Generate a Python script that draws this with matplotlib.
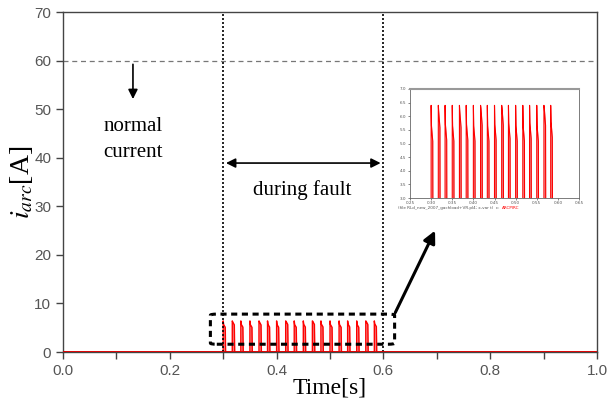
import numpy as np
import matplotlib.pyplot as plt
from matplotlib.patches import FancyBboxPatch
from matplotlib.ticker import MultipleLocator

plt.rcParams['mathtext.fontset'] = 'stix'

# arc pulse start times [s], peak and plateau currents [A]
pulse_t = [0.300, 0.317, 0.333, 0.350, 0.367, 0.383, 0.400, 0.417, 0.433,
           0.450, 0.467, 0.483, 0.500, 0.517, 0.533, 0.550, 0.567, 0.583]
pulse_peak = [6.4, 6.4, 6.4, 6.4, 6.4, 6.4, 6.4, 6.4, 6.4,
              6.4, 6.4, 6.4, 6.4, 6.4, 6.4, 6.4, 6.4, 6.4]
pulse_plat = [5.65, 6.2, 5.7, 5.65, 6.2, 5.7, 5.65, 6.3, 5.65,
              5.7, 6.3, 5.75, 5.65, 5.65, 5.75, 5.65, 6.3, 5.8]
pulse_width = 0.0045
normal_level = 60
fault_start, fault_end = 0.3, 0.6

xs, ys = [0.0], [0.0]
for t0, pk, pl in zip(pulse_t, pulse_peak, pulse_plat):
    xs += [t0, t0, t0 + 0.0008, t0 + pulse_width * 0.85, t0 + pulse_width]
    ys += [0, pk, pl, pl * 0.9, 0]
xs.append(1.0)
ys.append(0.0)
xs, ys = np.array(xs), np.array(ys)

fig = plt.figure(figsize=(6.16, 4.0), dpi=100)
ax = fig.add_axes([63 / 616, 48 / 400, 534 / 616, 340 / 400])

ax.fill_between(xs, ys, color='#ee8888', lw=0)
ax.plot(xs, ys, color='red', lw=1.0)
ax.axhline(0, color='#dd0000', lw=2.0, zorder=3)

ax.set_xlim(0, 1)
ax.set_ylim(0, 70)
ax.xaxis.set_major_locator(MultipleLocator(0.2))
ax.xaxis.set_minor_locator(MultipleLocator(0.1))
ax.yaxis.set_major_locator(MultipleLocator(10))
ax.tick_params(direction='out', length=5, width=1, labelsize=11,
               colors='#444444', labelcolor='#555555')
ax.tick_params(which='minor', direction='out', length=5, width=1, colors='#444444')
ax.xaxis.set_major_formatter(plt.FuncFormatter(lambda v, p: f'{v:.1f}'))
for lab in ax.get_xticklabels() + ax.get_yticklabels():
    lab.set_family('Liberation Sans')
for s in ax.spines.values():
    s.set_color('#444444')
    s.set_linewidth(1.0)

ax.set_xlabel('Time[s]', family='Liberation Serif', fontsize=17, labelpad=0)
ax.set_ylabel(r'$i_{arc}$[A]', family='Liberation Serif', fontsize=20)
ax.yaxis.set_label_coords(-28 / 534, 0.5)

# reference lines
ax.axhline(normal_level, color='#777777', lw=0.9, ls=(0, (4, 3)))
for xv in (fault_start, fault_end):
    ax.plot([xv, xv], [0, 70], color='black', lw=1.2, ls=(0, (1.2, 1.2)))

# normal current annotation
ax.annotate('', xy=(0.131, 51.5), xytext=(0.131, 59.8),
            arrowprops=dict(arrowstyle='-|>', color='black', lw=1.2, mutation_scale=14))
ax.text(0.131, 46.5, 'normal', ha='center', va='center',
        family='Liberation Serif', fontsize=15)
ax.text(0.131, 41.0, 'current', ha='center', va='center',
        family='Liberation Serif', fontsize=15)

# during fault annotation
ax.annotate('', xy=(fault_start, 38.9), xytext=(fault_end, 38.9),
            arrowprops=dict(arrowstyle='<|-|>', color='black', lw=1.2, mutation_scale=14))
ax.text(0.447, 33.4, 'during fault', ha='center', va='center',
        family='Liberation Serif', fontsize=15)

# dashed zoom box
box = FancyBboxPatch((0.276, 1.6), 0.345, 6.2, boxstyle='round,pad=0,rounding_size=0.012',
                     fill=False, ec='black', lw=2.2, ls=(0, (2, 1.5)),
                     mutation_aspect=20, zorder=5)
ax.add_patch(box)
ax.annotate('', xy=(0.699, 25.5), xytext=(0.62, 7.6),
            arrowprops=dict(arrowstyle='-|>', color='black', lw=2.2, mutation_scale=18))

# inset zoom
axi = fig.add_axes([410 / 616, 202 / 400, 169 / 616, 109 / 400])
axi.fill_between(xs, ys, color='#dd9999', lw=0)
axi.plot(xs, ys, color='red', lw=0.8)
axi.set_xlim(0.25, 0.65)
axi.set_ylim(3.0, 7.0)
axi.xaxis.set_major_locator(MultipleLocator(0.05))
axi.yaxis.set_major_locator(MultipleLocator(0.5))
axi.xaxis.set_major_formatter(plt.FuncFormatter(lambda v, p: f'{v:.2f}'))
axi.yaxis.set_major_formatter(plt.FuncFormatter(lambda v, p: f'{v:.1f}'))
axi.tick_params(labelsize=3, length=1.5, width=0.5, pad=1, colors='#555555')
for s in axi.spines.values():
    s.set_color('#666666')
    s.set_linewidth(0.6)
axi.spines['top'].set_linewidth(1.5)
axi.spines['top'].set_color('#999999')
cap = fig.text(398 / 616, 1 - 208 / 400, '(file RLd_new_2007_gachload+VR.pl4; x-var t)  c:',
               fontsize=3, color='#555555', va='center')
fig.canvas.draw()
bb = cap.get_window_extent().transformed(fig.transFigure.inverted())
fig.text(bb.x1 + 2 / 616, 1 - 208 / 400, 'ARCPIRC', fontsize=3, color='red', va='center')

fig.savefig('out.png', dpi=100)
